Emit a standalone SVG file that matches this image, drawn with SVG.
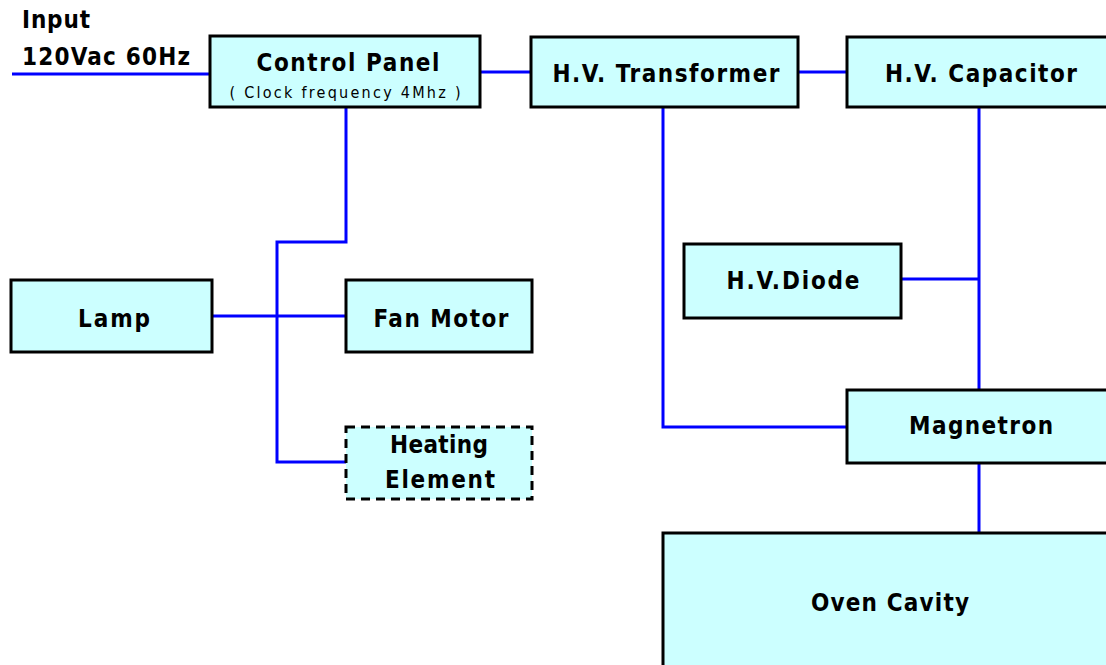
<svg xmlns="http://www.w3.org/2000/svg" width="1106" height="665" viewBox="0 0 1106 665">
<style>
.box{fill:#CCFFFF;stroke:#000;stroke-width:3}
.dash{stroke-dasharray:9,6}
.t{font-family:"DejaVu Sans Condensed","DejaVu Sans","Liberation Sans",sans-serif;font-stretch:condensed;font-weight:bold;font-size:24px;fill:#000;text-anchor:middle}
.l{text-anchor:start}
.s{font-family:"DejaVu Sans Condensed","DejaVu Sans","Liberation Sans",sans-serif;font-stretch:condensed;font-size:16px;fill:#000;text-anchor:middle}
.w{fill:none;stroke:#0000FF;stroke-width:3}
</style>
<rect width="1106" height="665" fill="#fff"/>
<g id="connectors">
<path class="w" d="M12,74H210"/>
<path class="w" d="M480,72H531"/>
<path class="w" d="M798,72H847"/>
<path class="w" d="M346,107V242H277V462H346"/>
<path class="w" d="M212,316H346"/>
<path class="w" d="M663,107V427H847"/>
<path class="w" d="M979,107V390"/>
<path class="w" d="M901,279H979"/>
<path class="w" d="M979,463V533"/>
</g>
<g id="input">
<text class="t l" x="22" y="28" textLength="68" lengthAdjust="spacing">Input</text>
<text class="t l" x="22" y="65" textLength="168" lengthAdjust="spacing">120Vac 60Hz</text>
</g>
<g id="control-panel">
<rect class="box" x="210" y="36" width="270" height="71"/>
<text class="t" x="348" y="71" textLength="183" lengthAdjust="spacing">Control Panel</text>
<text class="s" x="345" y="98" textLength="231" lengthAdjust="spacing">( Clock frequency 4Mhz )</text>
</g>
<g id="transformer">
<rect class="box" x="531" y="37" width="267" height="70"/>
<text class="t" x="666" y="82" textLength="227" lengthAdjust="spacing">H.V. Transformer</text>
</g>
<g id="capacitor">
<rect class="box" x="847" y="37" width="265" height="70"/>
<text class="t" x="981" y="82" textLength="192" lengthAdjust="spacing">H.V. Capacitor</text>
</g>
<g id="lamp">
<rect class="box" x="11" y="280" width="201" height="72"/>
<text class="t" x="114" y="327" textLength="72" lengthAdjust="spacing">Lamp</text>
</g>
<g id="fan-motor">
<rect class="box" x="346" y="280" width="186" height="72"/>
<text class="t" x="441" y="327" textLength="135" lengthAdjust="spacing">Fan Motor</text>
</g>
<g id="heating-element">
<rect class="box dash" x="346" y="427" width="186" height="72"/>
<text class="t" x="439" y="453" textLength="98" lengthAdjust="spacing">Heating</text>
<text class="t" x="440" y="488" textLength="110" lengthAdjust="spacing">Element</text>
</g>
<g id="diode">
<rect class="box" x="684" y="244" width="217" height="74"/>
<text class="t" x="793" y="289" textLength="133" lengthAdjust="spacing">H.V.Diode</text>
</g>
<g id="magnetron">
<rect class="box" x="847" y="390" width="265" height="73"/>
<text class="t" x="981" y="434" textLength="144" lengthAdjust="spacing">Magnetron</text>
</g>
<g id="oven-cavity">
<rect class="box" x="663" y="533" width="449" height="140"/>
<text class="t" x="890" y="611" textLength="158" lengthAdjust="spacing">Oven Cavity</text>
</g>
</svg>
